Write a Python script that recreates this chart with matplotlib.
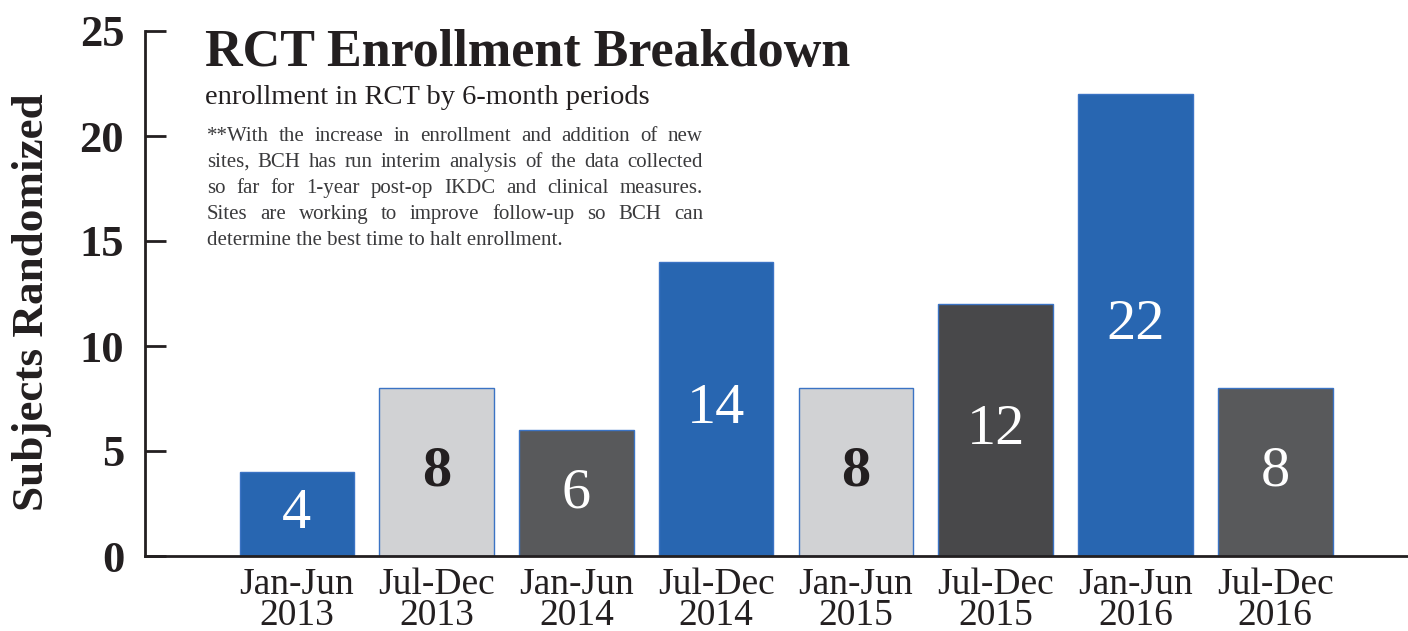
import matplotlib
matplotlib.use("Agg")
import matplotlib.pyplot as plt
import numpy as np

plt.rcParams['font.family'] = ['Liberation Serif', 'DejaVu Serif']

periods = ['Jan-Jun\n2013', 'Jul-Dec\n2013', 'Jan-Jun\n2014', 'Jul-Dec\n2014',
           'Jan-Jun\n2015', 'Jul-Dec\n2015', 'Jan-Jun\n2016', 'Jul-Dec\n2016']
subjects = [4, 8, 6, 14, 8, 12, 22, 8]
bar_colors = ['#2866B1', '#D1D2D4', '#58595B', '#2866B1',
              '#D1D2D4', '#48484A', '#2866B1', '#58595B']
label_colors = ['white', '#231F20', 'white', 'white',
                '#231F20', 'white', 'white', 'white']

title = 'RCT Enrollment Breakdown'
subtitle = 'enrollment in RCT by 6-month periods'
note_lines = ['**With the increase in enrollment and addition of new',
              'sites, BCH has run interim analysis of the data collected',
              'so far for 1-year post-op IKDC and clinical measures.',
              'Sites are working to improve follow-up so BCH can',
              'determine the best time to halt enrollment.']

ink = '#231F20'
W, H = 1408, 631

fig = plt.figure(figsize=(14.08, 6.31), dpi=100)
ax = fig.add_axes([145 / W, 75 / H, 1 - 145 / W, 525 / H])

x = np.arange(len(subjects))
ax.bar(x, subjects, width=0.82, color=bar_colors, edgecolor='#3B73C4', linewidth=1.0, zorder=2)

for xi, v, c in zip(x, subjects, label_colors):
    ax.text(xi, v / 2, str(v), ha='center', va='center', fontsize=42,
            color=c, fontweight='bold' if c != 'white' else 'normal', zorder=3)

ax.set_xlim(-1.087, 7.95)
ax.set_ylim(0, 25)
ax.set_yticks([0, 5, 10, 15, 20, 25])
ax.set_xticks(x)
ax.set_xticklabels(periods, fontsize=27, color=ink, linespacing=0.9)
ax.tick_params(axis='x', length=0, pad=8)
ax.tick_params(axis='y', direction='in', length=15, width=2, color=ink,
               labelsize=32, labelcolor=ink, pad=15)
for lab in ax.get_yticklabels():
    lab.set_fontweight('bold')

for s in ['top', 'right']:
    ax.spines[s].set_visible(False)
for s in ['left', 'bottom']:
    ax.spines[s].set_linewidth(2)
    ax.spines[s].set_color(ink)

# y label placed in figure pixels
fig.text(32 / W, 1 - 302 / H, 'Subjects Randomized', rotation=90, fontsize=32.5,
         fontweight='bold', color=ink, ha='center', va='center')

# title block
fig.text(205 / W, 1 - 66 / H, title, fontsize=37.5, fontweight='bold',
         color=ink, va='baseline', ha='left')
fig.text(205 / W, 1 - 104 / H, subtitle, fontsize=20.5, color=ink,
         va='baseline', ha='left')

# justified note text
fig.canvas.draw()
renderer = fig.canvas.get_renderer()
left_px, right_px = 207, 703
base_px, step = 141, 26
note_size = 15
note_color = '#3A3A3C'
for i, line in enumerate(note_lines):
    y = 1 - (base_px + i * step) / H
    words = line.split(' ')
    if i == len(note_lines) - 1:
        fig.text(left_px / W, y, line, fontsize=note_size, color=note_color,
                 va='baseline', ha='left')
        continue
    widths = []
    for w in words:
        t = fig.text(0, 0, w, fontsize=note_size)
        widths.append(t.get_window_extent(renderer).width)
        t.remove()
    gap = (right_px - left_px - sum(widths)) / (len(words) - 1)
    pos = left_px
    for w, wd in zip(words, widths):
        fig.text(pos / W, y, w, fontsize=note_size, color=note_color,
                 va='baseline', ha='left')
        pos += wd + gap

fig.savefig('out.png', dpi=100)
